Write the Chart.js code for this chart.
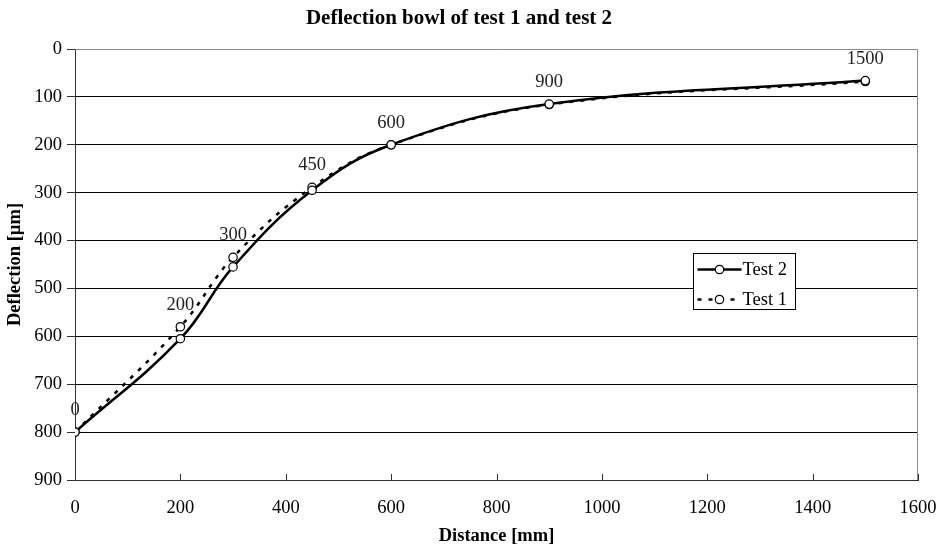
<!DOCTYPE html>
<html>
<head>
<meta charset="utf-8">
<script src="https://cdn.jsdelivr.net/npm/chart.js@4"></script>
<style>
  html, body { margin: 0; padding: 0; background: #fff; }
  #wrap { width: 937px; height: 554px; position: relative; }
</style>
</head>
<body>
<div id="wrap"><canvas id="c" width="937" height="554"></canvas></div>
<script>
// Measured deflections along the bowl (distance from load centre, mm)
const distances = [0, 200, 300, 450, 600, 900, 1500];
const test2 = [800, 605, 455, 295, 200, 115, 66];
const test1 = [800, 580, 435, 289, 200, 116, 68];
const pointLabels = ['0', '200', '300', '450', '600', '900', '1500'];
const yTicks = [0, 100, 200, 300, 400, 500, 600, 700, 800, 900];
const xTicks = [0, 200, 400, 600, 800, 1000, 1200, 1400, 1600];

const SERIF = '"Liberation Serif", "Times New Roman", serif';
const TEXT_SIZE = 18.5;

const toPoints = (ys) => distances.map((d, i) => ({ x: d, y: ys[i] }));

// Grey frame on the top and right of the plot area, inward ticks on the x axis
const framePlugin = {
  id: 'frame',
  beforeDatasetsDraw(chart) {
    const { ctx, chartArea: a, scales } = chart;
    ctx.save();
    ctx.strokeStyle = '#8c8c8c';
    ctx.lineWidth = 1;
    ctx.beginPath();
    ctx.moveTo(a.left, a.top + 0.5);
    ctx.lineTo(a.right - 0.5, a.top + 0.5);
    ctx.lineTo(a.right - 0.5, a.bottom);
    ctx.stroke();
    ctx.strokeStyle = '#303030';
    ctx.beginPath();
    xTicks.forEach(v => {
      const px = Math.round(scales.x.getPixelForValue(v)) + 0.5;
      ctx.moveTo(px, a.bottom);
      ctx.lineTo(px, a.bottom - 6);
    });
    ctx.stroke();
    ctx.restore();
  }
};

// Distance labels above the Test 1 points
const pointLabelPlugin = {
  id: 'pointLabels',
  afterDatasetsDraw(chart) {
    const { ctx } = chart;
    const meta = chart.getDatasetMeta(1);
    ctx.save();
    ctx.font = TEXT_SIZE + 'px ' + SERIF;
    ctx.fillStyle = '#222';
    ctx.textAlign = 'center';
    ctx.textBaseline = 'middle';
    meta.data.forEach((pt, i) => {
      ctx.fillText(pointLabels[i], pt.x, pt.y - 22);
    });
    ctx.restore();
  }
};

// Boxed legend placed inside the plot area
const boxLegendPlugin = {
  id: 'boxLegend',
  afterDraw(chart) {
    const { ctx, scales } = chart;
    const left = Math.round(scales.x.getPixelForValue(1173)) + 0.5;
    const top = Math.round(scales.y.getPixelForValue(425)) + 0.5;
    const w = 102, h = 56;
    ctx.save();
    ctx.fillStyle = '#fff';
    ctx.fillRect(left, top, w, h);
    ctx.strokeStyle = '#000';
    ctx.lineWidth = 1;
    ctx.strokeRect(left, top, w, h);
    chart.data.datasets.forEach((ds, i) => {
      const cy = top + 16 + i * 30;
      ctx.strokeStyle = '#000';
      ctx.lineWidth = 2.5;
      ctx.setLineDash(ds.borderDash || []);
      ctx.beginPath();
      ctx.moveTo(left + 4, cy);
      ctx.lineTo(left + 48, cy);
      ctx.stroke();
      ctx.setLineDash([]);
      ctx.fillStyle = '#fff';
      ctx.lineWidth = 1.2;
      ctx.beginPath();
      ctx.arc(left + 26, cy, 4.2, 0, Math.PI * 2);
      ctx.fill();
      ctx.stroke();
      ctx.fillStyle = '#000';
      ctx.font = TEXT_SIZE + 'px ' + SERIF;
      ctx.textAlign = 'left';
      ctx.textBaseline = 'middle';
      ctx.fillText(ds.label, left + 49, cy + 1);
    });
    ctx.restore();
  }
};

new Chart(document.getElementById('c'), {
  type: 'line',
  data: {
    datasets: [
      {
        label: 'Test 2',
        data: toPoints(test2),
        borderColor: '#000',
        borderWidth: 2.5,
        tension: 0.4,
        pointRadius: 4.2,
        pointBorderWidth: 1.2,
        pointBackgroundColor: '#fff',
        pointBorderColor: '#000'
      },
      {
        label: 'Test 1',
        data: toPoints(test1),
        borderColor: '#000',
        borderWidth: 2.5,
        borderDash: [4, 7],
        tension: 0.4,
        pointRadius: 4.2,
        pointBorderWidth: 1.2,
        pointBackgroundColor: '#fff',
        pointBorderColor: '#000'
      }
    ]
  },
  options: {
    responsive: false,
    animation: false,
    devicePixelRatio: 1,
    layout: { padding: { left: 0, right: 19, top: 0, bottom: 0 } },
    plugins: {
      legend: { display: false },
      tooltip: { enabled: false },
      title: {
        display: true,
        text: 'Deflection bowl of test 1 and test 2',
        color: '#000',
        font: { family: SERIF, size: 21, weight: 'bold', lineHeight: 1.2 },
        padding: { top: 6, bottom: 17.8 }
      }
    },
    scales: {
      x: {
        type: 'linear',
        min: 0,
        max: 1600,
        afterBuildTicks: (s) => { s.ticks = xTicks.map(v => ({ value: v })); },
        afterFit: (s) => { s.height = 74; s.paddingLeft = 0; s.paddingRight = 0; },
        ticks: {
          color: '#000',
          font: { family: SERIF, size: TEXT_SIZE },
          padding: 17,
          maxRotation: 0,
          callback: (v) => String(v)
        },
        grid: {
          drawOnChartArea: false,
          drawTicks: false
        },
        border: { display: true, color: '#303030', width: 1 },
        title: {
          display: true,
          text: 'Distance [mm]',
          color: '#000',
          font: { family: SERIF, size: TEXT_SIZE, weight: 'bold' },
          padding: { top: 4, bottom: 7 }
        }
      },
      y: {
        type: 'linear',
        reverse: true,
        min: 0,
        max: 900,
        afterBuildTicks: (s) => { s.ticks = yTicks.map(v => ({ value: v })); },
        afterFit: (s) => { s.width = 75; s.paddingTop = 0; s.paddingBottom = 0; },
        ticks: {
          color: '#000',
          font: { family: SERIF, size: TEXT_SIZE },
          padding: 5,
          callback: (v) => String(v)
        },
        grid: {
          color: (c) => (c.tick && (c.tick.value === 0 || c.tick.value === 900)) ? 'rgba(0,0,0,0)' : '#000',
          lineWidth: 1,
          drawTicks: true,
          tickLength: 8,
          tickColor: '#303030'
        },
        border: { display: true, color: '#303030', width: 1 },
        title: {
          display: true,
          text: 'Deflection [µm]',
          color: '#000',
          font: { family: SERIF, size: TEXT_SIZE, weight: 'bold' },
          padding: { top: 4, bottom: 4 }
        }
      }
    }
  },
  plugins: [framePlugin, pointLabelPlugin, boxLegendPlugin]
});
</script>
</body>
</html>
